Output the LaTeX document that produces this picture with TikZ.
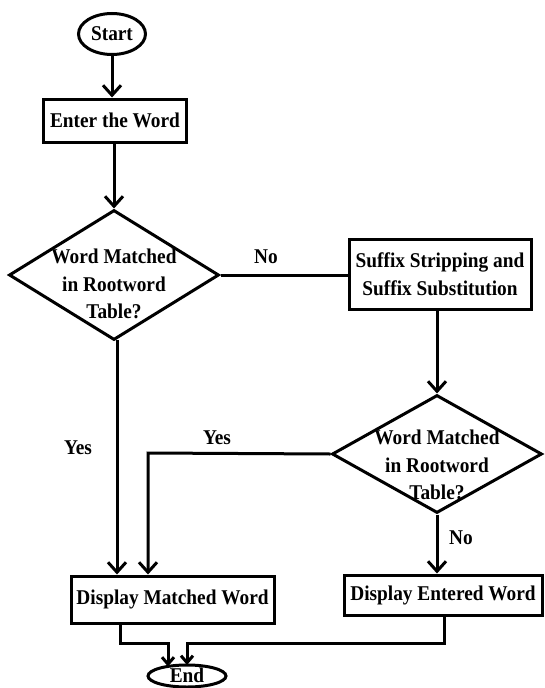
\documentclass[tikz,border=0pt]{standalone}
\usepackage{fontspec}
\setmainfont{Liberation Serif}[FakeStretch=0.92]
\usetikzlibrary{shapes.geometric,arrows.meta}
\begin{document}
\begin{tikzpicture}[x=1pt,y=-1pt,
  line width=3pt,
  txt/.style={font=\bfseries\fontsize{21}{27.5}\selectfont, align=center, inner sep=0pt},
  box/.style={draw, rectangle, txt},
  oval/.style={draw, ellipse, txt},
  dmd/.style={draw, diamond, inner sep=0pt},
  lbl/.style={txt},
  arr/.style={-{Straight Barb[length=10pt,width=18pt]}},
  sarr/.style={-{Straight Barb[length=7pt,width=12pt]}},
  line join=miter
]
\useasboundingbox (0,0) rectangle (544,688);

\node[oval, minimum width=67pt, minimum height=41pt] (start) at (112,34) {Start};
\node[box, minimum width=143pt, minimum height=43pt] (enter) at (115,120.5) {Enter the Word};
\node[dmd, minimum width=210pt, minimum height=130pt] (d1) at (114,275) {};
\node[txt] (d1t) at (114,284) {Word Matched\\in Rootword\\Table?};
\node[box, minimum width=182pt, minimum height=70pt] (suffix) at (440,274) {Suffix Stripping and\\Suffix Substitution};
\node[dmd, minimum width=210pt, minimum height=118pt] (d2) at (437,454) {};
\node[txt] (d2t) at (437,465) {Word Matched\\in Rootword\\Table?};
\node[box, minimum width=203pt, minimum height=47pt] (matched) at (172.5,599.5) {Display Matched Word};
\node[box, minimum width=198pt, minimum height=40pt] (entered) at (443,595) {Display Entered Word};
\node[oval, minimum width=78pt, minimum height=22pt] (end) at (187,676) {};
\node[txt] (endt) at (187,675.5) {End};

\node[lbl] (no1) at (266,257) {No};
\node[lbl] (yes1) at (78,448) {Yes};
\node[lbl] (yes2) at (217,438) {Yes};
\node[lbl] (no2) at (461,538) {No};

\coordinate (ycorner) at (148,453);
\coordinate (e1) at (168,666.5);
\coordinate (e2) at (187,665);
\coordinate (m1) at (120,643);
\coordinate (m2) at (444,643);

\draw[arr] (start.south) -- (start.south |- enter.north);
\draw[arr] (enter.south -| d1.north) -- (d1.north);
\draw (d1.east) -- (d1.east -| suffix.west);
\draw[arr] (suffix.south -| d2.north) -- (d2.north);
\draw[arr] (d2.west) -- (ycorner) -- (ycorner |- matched.north);
\draw[arr] (117,340) -- (117,0 |- matched.north);
\draw[arr] (d2.south) -- (d2.south |- entered.north);
\draw[sarr] (m1 |- matched.south) -- (m1) -- (m1 -| e1) -- (e1);
\draw[sarr] (m2 |- entered.south) -- (m2) -- (m2 -| e2) -- (e2);
\end{tikzpicture}
\end{document}
